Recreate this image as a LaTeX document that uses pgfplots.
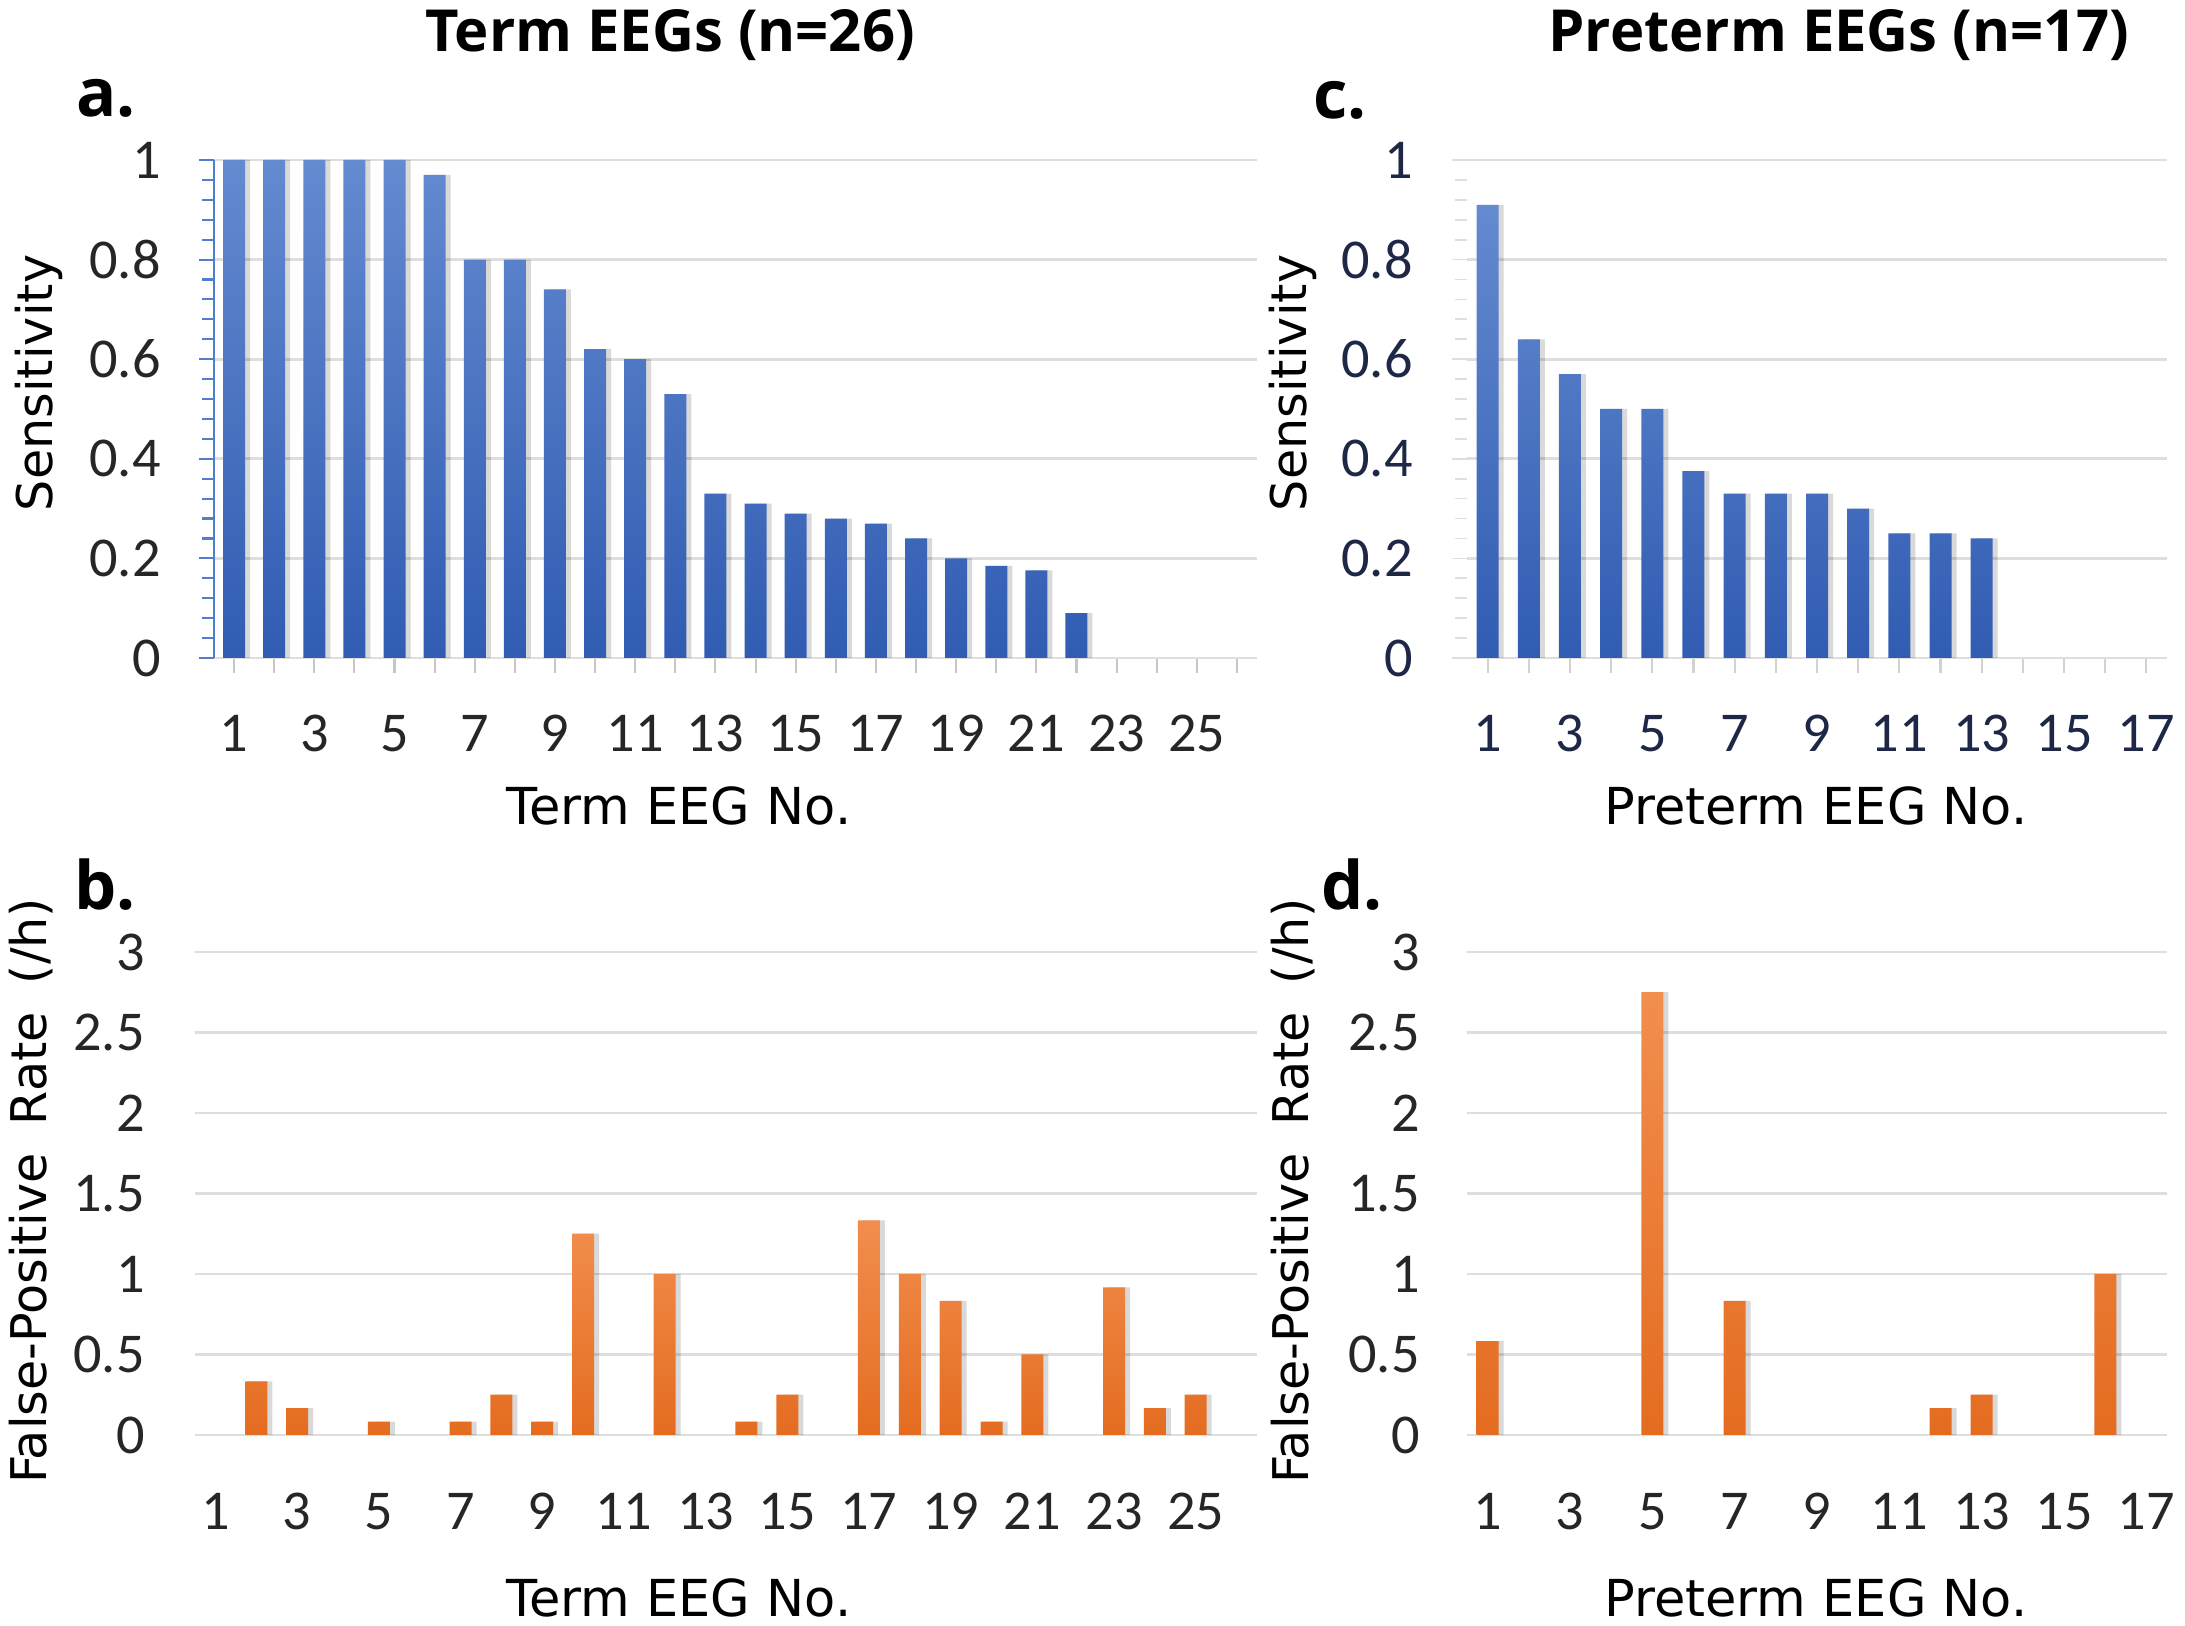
\documentclass[border=0pt]{standalone}
\usepackage{fontspec}
\setmainfont{DejaVu Sans}
\newfontfamily\titlefont{Open Sans}
\newfontfamily\tickfont{Carlito}
\usepackage{pgfplots}
\pgfplotsset{compat=1.18}
\definecolor{blueT}{RGB}{100,138,208}
\definecolor{blueB}{RGB}{48,92,178}
\definecolor{orT}{RGB}{242,142,78}
\definecolor{orB}{RGB}{228,108,32}
\definecolor{axblue}{RGB}{80,125,205}
\definecolor{navy}{RGB}{30,40,70}
\definecolor{gridc}{RGB}{222,222,222}
\pgfplotsset{
  base/.style={
    anchor=south west, scale only axis,
    ybar, bar width=2.2mm,
    enlargelimits=false,
    axis x line*=bottom, axis y line*=left,
    axis line style={-},
    x axis line style={draw=gridc, line width=0.8pt},
    ymajorgrids, grid style={draw=gridc, line width=0.8pt},
    tick align=outside,
    tick label style={font=\tickfont\fontsize{16}{18}\selectfont, text=black!85},
  },
}
\begin{document}
\begin{tikzpicture}
\path[use as bounding box] (0,0) rectangle (218.5mm,162.6mm);
% ---------- a ----------
\begin{axis}[base,
  at={(21.4mm,96.8mm)}, width=104.3mm, height=49.8mm,
  xmin=0.5, xmax=26.5, ymin=0, ymax=1,
  xtick={1,...,26},
  xticklabels={1,,3,,5,,7,,9,,11,,13,,15,,17,,19,,21,,23,,25,},
  ytick={0,0.2,0.4,0.6,0.8,1},
  yticklabels={0,0.2,0.4,0.6,0.8,1},
  minor y tick num=4,
  y axis line style={draw=axblue, line width=0.8pt},
  ytick style={draw=axblue, line width=0.6pt},
  major tick length=1.5mm, minor tick length=1.2mm,
  xtick style={draw=gray!45, line width=0.6pt},
  xticklabel style={yshift=-3.0mm},
  yticklabel style={xshift=-2.6mm},
]
\addplot[draw=none, fill=black, fill opacity=0.15, bar shift=0.5mm] coordinates {
(1,1)(2,1)(3,1)(4,1)(5,1)(6,0.97)(7,0.8)(8,0.8)(9,0.74)(10,0.62)(11,0.6)(12,0.53)(13,0.33)(14,0.31)(15,0.29)(16,0.28)(17,0.27)(18,0.24)(19,0.2)(20,0.185)(21,0.176)(22,0.09)};
\addplot[draw=none, top color=blueT, bottom color=blueB, bar shift=0pt] coordinates {
(1,1)(2,1)(3,1)(4,1)(5,1)(6,0.97)(7,0.8)(8,0.8)(9,0.74)(10,0.62)(11,0.6)(12,0.53)(13,0.33)(14,0.31)(15,0.29)(16,0.28)(17,0.27)(18,0.24)(19,0.2)(20,0.185)(21,0.176)(22,0.09)};
\end{axis}
% ---------- c ----------
\begin{axis}[base,
  at={(146.7mm,96.8mm)}, width=70mm, height=49.8mm,
  xmin=0.5, xmax=17.5, ymin=0, ymax=1,
  xtick={1,...,17},
  xticklabels={1,,3,,5,,7,,9,,11,,13,,15,,17},
  ytick={0,0.2,0.4,0.6,0.8,1},
  yticklabels={0,0.2,0.4,0.6,0.8,1},
  minor y tick num=4,
  y axis line style={draw=none},
  ytick style={draw=gray!25, line width=0.5pt},
  major tick length=1.5mm, minor tick length=1.2mm,
  xtick style={draw=gray!35, line width=0.6pt},
  tick label style={text=navy},
  xticklabel style={yshift=-3.0mm},
  yticklabel style={xshift=-2.7mm},
]
\addplot[draw=none, fill=black, fill opacity=0.15, bar shift=0.5mm] coordinates {
(1,0.91)(2,0.64)(3,0.57)(4,0.5)(5,0.5)(6,0.375)(7,0.33)(8,0.33)(9,0.33)(10,0.3)(11,0.25)(12,0.25)(13,0.24)};
\addplot[draw=none, top color=blueT, bottom color=blueB, bar shift=0pt] coordinates {
(1,0.91)(2,0.64)(3,0.57)(4,0.5)(5,0.5)(6,0.375)(7,0.33)(8,0.33)(9,0.33)(10,0.3)(11,0.25)(12,0.25)(13,0.24)};
\end{axis}
% ---------- b ----------
\begin{axis}[base,
  at={(19.5mm,19.1mm)}, width=106.2mm, height=48.3mm,
  xmin=0.5, xmax=26.5, ymin=0, ymax=3,
  xtick={1,...,26},
  xticklabels={1,,3,,5,,7,,9,,11,,13,,15,,17,,19,,21,,23,,25,},
  ytick={0,0.5,1,1.5,2,2.5,3},
  yticklabels={0,0.5,1,1.5,2,2.5,3},
  y axis line style={draw=none},
  ytick style={draw=none}, xtick style={draw=none},
  major tick length=0mm,
  xticklabel style={yshift=-4.6mm},
  yticklabel style={xshift=-3.8mm},
]
\addplot[draw=none, fill=black, fill opacity=0.15, bar shift=0.5mm] coordinates {
(2,0.333)(3,0.167)(5,0.083)(7,0.083)(8,0.25)(9,0.083)(10,1.25)(12,1)(14,0.083)(15,0.25)(17,1.333)(18,1)(19,0.833)(20,0.083)(21,0.5)(23,0.917)(24,0.167)(25,0.25)};
\addplot[draw=none, top color=orT, bottom color=orB, bar shift=0pt] coordinates {
(2,0.333)(3,0.167)(5,0.083)(7,0.083)(8,0.25)(9,0.083)(10,1.25)(12,1)(14,0.083)(15,0.25)(17,1.333)(18,1)(19,0.833)(20,0.083)(21,0.5)(23,0.917)(24,0.167)(25,0.25)};
\end{axis}
% ---------- d ----------
\begin{axis}[base,
  at={(146.7mm,19.1mm)}, width=70mm, height=48.3mm,
  xmin=0.5, xmax=17.5, ymin=0, ymax=3,
  xtick={1,...,17},
  xticklabels={1,,3,,5,,7,,9,,11,,13,,15,,17},
  ytick={0,0.5,1,1.5,2,2.5,3},
  yticklabels={0,0.5,1,1.5,2,2.5,3},
  y axis line style={draw=none},
  ytick style={draw=none}, xtick style={draw=none},
  major tick length=0mm,
  xticklabel style={yshift=-4.6mm},
  yticklabel style={xshift=-3.5mm},
]
\addplot[draw=none, fill=black, fill opacity=0.15, bar shift=0.5mm] coordinates {
(1,0.583)(5,2.75)(7,0.833)(12,0.167)(13,0.25)(16,1)};
\addplot[draw=none, top color=orT, bottom color=orB, bar shift=0pt] coordinates {
(1,0.583)(5,2.75)(7,0.833)(12,0.167)(13,0.25)(16,1)};
\end{axis}
% ---------- texts ----------
\node[font=\titlefont\bfseries\fontsize{16.5}{18}\selectfont] at (67.0mm,159.1mm) {Term EEGs (n=26)};
\node[font=\titlefont\bfseries\fontsize{16.5}{18}\selectfont] at (183.9mm,159.1mm) {Preterm EEGs (n=17)};
\node[font=\titlefont\bfseries\fontsize{19}{20}\selectfont] at (10.6mm,152.8mm) {a.};
\node[font=\titlefont\bfseries\fontsize{19}{20}\selectfont] at (134.0mm,152.6mm) {c.};
\node[font=\titlefont\bfseries\fontsize{19}{20}\selectfont] at (10.5mm,74.1mm) {b.};
\node[font=\titlefont\bfseries\fontsize{19}{20}\selectfont] at (135.2mm,74.1mm) {d.};
\node[font=\fontsize{14.5}{16}\selectfont] at (67.9mm,82.0mm) {Term EEG No.};
\node[font=\fontsize{14.5}{16}\selectfont] at (181.6mm,82.0mm) {Preterm EEG No.};
\node[font=\fontsize{14.5}{16}\selectfont] at (67.9mm,2.8mm) {Term EEG No.};
\node[font=\fontsize{14.5}{16}\selectfont] at (181.6mm,2.8mm) {Preterm EEG No.};
\node[font=\fontsize{14}{16}\selectfont, rotate=90] at (3.9mm,124.3mm) {Sensitivity};
\node[font=\fontsize{14}{16}\selectfont, rotate=90] at (129.3mm,124.3mm) {Sensitivity};
\node[font=\fontsize{14}{16}\selectfont, rotate=90] at (3.1mm,43.5mm) {False-Positive\hspace{2.8mm}Rate\hspace{2.8mm}(/h)};
\node[font=\fontsize{14}{16}\selectfont, rotate=90] at (129.3mm,43.5mm) {False-Positive\hspace{2.8mm}Rate\hspace{2.8mm}(/h)};
\end{tikzpicture}
\end{document}
